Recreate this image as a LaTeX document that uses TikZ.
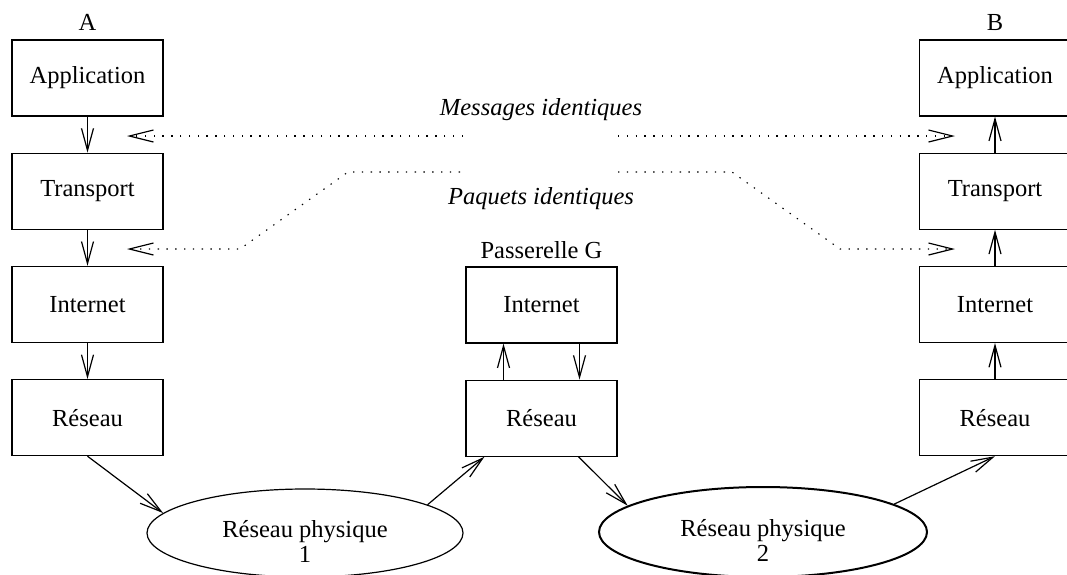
\documentclass[tikz,border=0pt]{standalone}
\usepackage{fontspec}
\setmainfont{Liberation Serif}
\usetikzlibrary{arrows.meta}
\usetikzlibrary{positioning}
\usetikzlibrary{shapes.geometric}
\newcommand{\figfont}{\fontsize{24.5}{25}\selectfont}
\tikzset {
  % one layer of a protocol stack
  layer/.style = {
    draw = black,
    rectangle,
    line width = 1.2pt,
    minimum width = 151pt,
    minimum height = 76pt,
    inner sep = 0
  },
  % physical network
  phynet/.style = {
    draw = black,
    ellipse,
    line width = 1.2pt,
    align = center,
    inner sep = 0
  },
  % name above a stack
  host/.style = {
    inner sep = 0.3333em
  },
  % caption between the stacks
  note/.style = {
    font = \figfont\itshape
  },
  node distance = 36pt
}
\tikzset {
  % path between layers
  flow/.style = {
    draw = black,
    line width = 1.2pt,
    -{Straight Barb[length=22pt,width=12pt]}
  },
  % exchange between peers
  peer/.style = {
    draw = black,
    line width = 1.1pt,
    dash pattern = on 1.4pt off 7.4pt,
    -{Straight Barb[length=24pt,width=12pt,line width=1.2pt]}
  }
}

\begin{document}
\begin{tikzpicture}[x=1pt, y=-1pt, font=\figfont]
    \clip (0,0) rectangle (1067,574);
    % host A
    \node[layer] (appA) at (87.5,78) {Application};
    \node[layer] (trA) [below=of appA] {Transport};
    \node[layer] (intA) [below=of trA] {Internet};
    \node[layer] (resA) [below=of intA] {Réseau};
    \node[host] (hostA) [above=5pt of appA] {A};
    % gateway G
    \node[layer] (intG) at (541.5,305) {Internet};
    \node[layer] (resG) [below=of intG] {Réseau};
    \node[host] (hostG) [above=4pt of intG] {Passerelle G};
    % host B
    \node[layer] (appB) at (995,78) {Application};
    \node[layer] (trB) [below=of appB] {Transport};
    \node[layer] (intB) [below=of trB] {Internet};
    \node[layer] (resB) [below=of intB] {Réseau};
    \node[host] (hostB) [above=5pt of appB] {B};
    % physical networks
    \node[phynet, minimum width=316pt, minimum height=88pt] (phy1) at (305,533)
      {\rule{0pt}{33pt}Réseau physique\\1};
    \node[phynet, line width=2pt, minimum width=328pt, minimum height=90pt] (phy2) at (763,532)
      {\rule{0pt}{33pt}Réseau physique\\2};

    \draw[flow] (appA) -- (trA);
    \draw[flow] (trA) -- (intA);
    \draw[flow] (intA) -- (resA);
    \draw[flow] ([xshift=-38pt]resG.north) -- ([xshift=-38pt]intG.south);
    \draw[flow] ([xshift=38pt]intG.south) -- ([xshift=38pt]resG.north);
    \draw[flow] (resB) -- (intB);
    \draw[flow] (intB) -- (trB);
    \draw[flow] (trB) -- (appB);

    \draw[flow] (resA.south) -- (phy1.172);
    \draw[flow] (phy1.13) -- ([xshift=19pt]resG.south west);
    \draw[flow] ([xshift=-39pt]resG.south east) -- (phy2.169);
    \draw[flow] (phy2.12) -- (resB.south);

    % peer exchanges
    \node[note, anchor=base] (msg) at (541,115) {Messages identiques};
    \node[note, anchor=base] (pkt) at (541,204) {Paquets identiques};
    \coordinate (msgA) at (127,136);
    \coordinate (msgAend) at (463,136);
    \coordinate (msgB) at (955,136);
    \coordinate (msgBend) at (618,136);
    \coordinate (pktA) at (127,249);
    \coordinate (pktAend) at (460,172);
    \coordinate (pktB) at (955,249);
    \coordinate (pktBend) at (618,172);

    \draw[peer] (msgAend) -- (msgA);
    \draw[peer] (msgBend) -- (msgB);
    \draw[peer] (pktAend) -- (348,172) -- (240,249) -- (pktA);
    \draw[peer] (pktBend) -- (732,172) -- (840,249) -- (pktB);
  \end{tikzpicture}
\end{document}
